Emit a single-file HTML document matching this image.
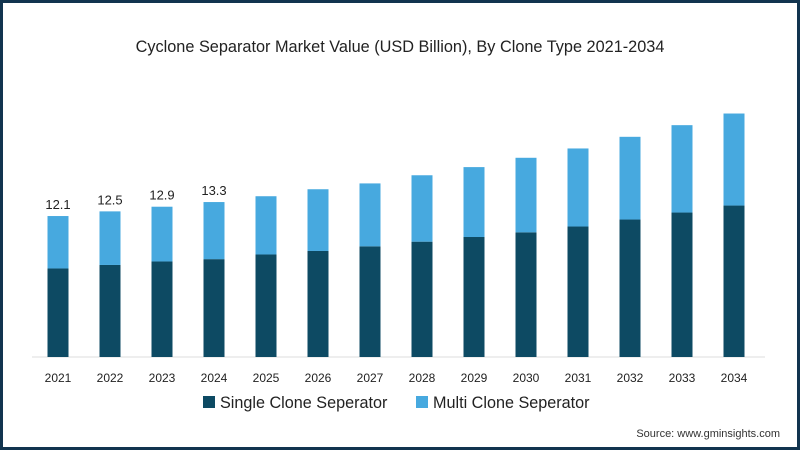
<!DOCTYPE html>
<html><head><meta charset="utf-8"><style>
body{margin:0;width:800px;height:450px;overflow:hidden;background:#fff;font-family:"Liberation Sans",sans-serif}
#frame{position:absolute;left:0;top:0;width:794px;height:444px;border:3px solid #12344f;background:#fff}
</style></head><body>
<div id="frame"></div>
<svg id="chart" width="800" height="450" style="position:absolute;left:0;top:0">
<text x="400" y="52" text-anchor="middle" font-size="16.3" fill="#222">Cyclone Separator Market Value (USD Billion), By Clone Type 2021-2034</text>
<line x1="32" y1="357" x2="765" y2="357" stroke="#ddd" stroke-width="1"/>
<g id="bars"></g>
<g>
<rect x="203" y="396" width="12" height="12" fill="#0d4a63"/>
<text x="220" y="408" font-size="16.2" fill="#222">Single Clone Seperator</text>
<rect x="416" y="396" width="12" height="12" fill="#47a9df"/>
<text x="433" y="408" font-size="16.2" fill="#222">Multi Clone Seperator</text>
</g>
<text x="780" y="437" text-anchor="end" font-size="11" fill="#333">Source: www.gminsights.com</text>
</svg>
<script>
const years=["2021","2022","2023","2024","2025","2026","2027","2028","2029","2030","2031","2032","2033","2034"];
const single=[7.6,7.9,8.2,8.4,8.8,9.1,9.5,9.9,10.3,10.7,11.2,11.8,12.4,13.0];
const multi=[4.5,4.6,4.7,4.9,5.0,5.3,5.4,5.7,6.0,6.4,6.7,7.1,7.5,7.9];
const labels=["12.1","12.5","12.9","13.3","","","","","","","","","",""];
const base=357, scale=11.65, x0=58, step=52.0, bw=21;
const xs=i=>x0+i*step;
const ys=v=>v*scale;
const g=document.getElementById('bars');
const NS="http://www.w3.org/2000/svg";
years.forEach((yr,i)=>{
  const hd=ys(single[i]), hm=ys(multi[i]);
  const d=document.createElementNS(NS,'rect');
  d.setAttribute('x',xs(i)-bw/2);d.setAttribute('y',base-hd);d.setAttribute('width',bw);d.setAttribute('height',hd);d.setAttribute('fill','#0d4a63');
  
  
  g.appendChild(d);
  const m=document.createElementNS(NS,'rect');
  m.setAttribute('x',xs(i)-bw/2);m.setAttribute('y',base-hd-hm);m.setAttribute('width',bw);m.setAttribute('height',hm);m.setAttribute('fill','#47a9df');
  
  
  g.appendChild(m);
  const t=document.createElementNS(NS,'text');
  t.setAttribute('x',xs(i));t.setAttribute('y',382);t.setAttribute('text-anchor','middle');t.setAttribute('font-size','12');t.setAttribute('fill','#222');
  t.textContent=yr;
  
  
  g.appendChild(t);
  if(labels[i]){
    const l=document.createElementNS(NS,'text');
    l.setAttribute('x',xs(i));l.setAttribute('y',base-hd-hm-7);l.setAttribute('text-anchor','middle');l.setAttribute('font-size','13');l.setAttribute('fill','#222');
    l.textContent=labels[i];
    
    
    g.appendChild(l);
  }
});
</script>
</body></html>
